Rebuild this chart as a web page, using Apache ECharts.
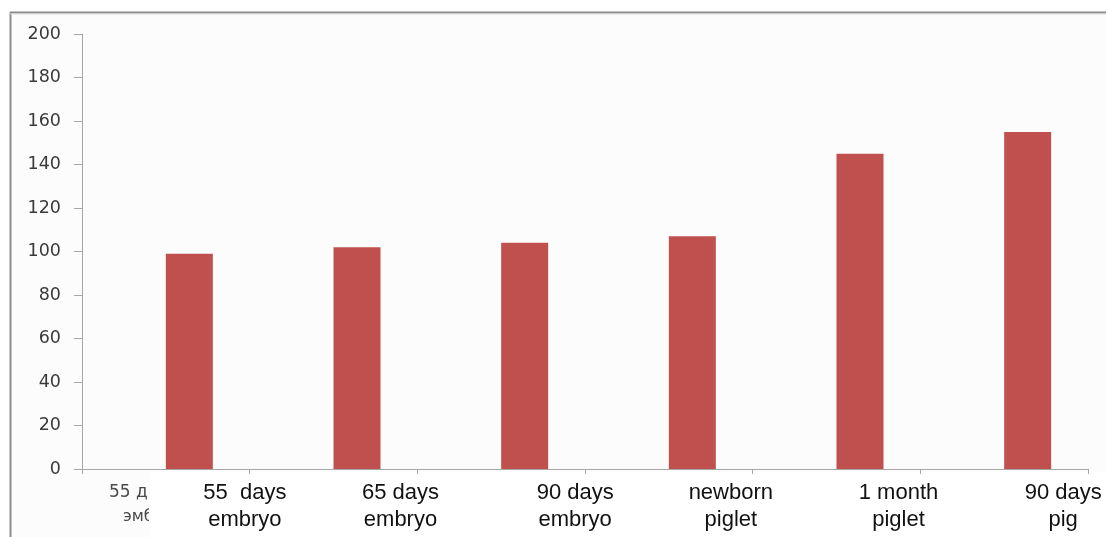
<!DOCTYPE html>
<html>
<head>
<meta charset="utf-8">
<script src="https://cdn.jsdelivr.net/npm/echarts@6/dist/echarts.min.js"></script>
<style>
  html, body { margin: 0; padding: 0; background: #ffffff; }
  #chart { width: 1106px; height: 537px; }
</style>
</head>
<body>
<div id="chart"></div>
<script>
// Stage of development for each bar
const categories = ['55  days\nembryo', '65 days\nembryo', '90 days\nembryo', 'newborn\npiglet', '1 month\npiglet', '90 days\npig'];
// Measured values
const values = [99, 102, 104, 107, 145, 155];
// Empty companion series (keeps the bars in the right half of each slot)
const blank = [null, null, null, null, null, null];
// Y axis range
const yMin = 0, yMax = 200, yStep = 20;

// horizontal shift of each category caption (px)
const captionShift = [79, 67, 74, 62, 62, 59];

const rich = {};
captionShift.forEach((s, i) => {
  rich['c' + i] = {
    fontFamily: 'Liberation Sans', fontSize: 22, color: '#111111',
    lineHeight: 27, padding: [0, 0, 0, 2 * s], align: 'center'
  };
});

const chart = echarts.init(document.getElementById('chart'), null, { renderer: 'canvas' });
chart.setOption({
  animation: false,
  backgroundColor: '#ffffff',
  graphic: [
    { type: 'rect', z: -20, shape: { x: 11, y: 13, width: 1095, height: 524 }, style: { fill: '#fcfcfc' } },
    { type: 'rect', z: -19, shape: { x: 150, y: 472, width: 956, height: 65 }, style: { fill: '#ffffff' } },
    { type: 'line', shape: { x1: 10.5, y1: 12, x2: 10.5, y2: 537 }, style: { stroke: '#8c8c8c', lineWidth: 2 } },
    { type: 'line', shape: { x1: 10, y1: 12.5, x2: 1106, y2: 12.5 }, style: { stroke: '#8c8c8c', lineWidth: 2 } },
    { type: 'line', shape: { x1: 10, y1: 14, x2: 1106, y2: 14 }, style: { stroke: '#dcdcdc', lineWidth: 1 } },
    {
      type: 'text', left: 109, top: 484, z: 5,
      style: { text: '55 д', fontFamily: 'DejaVu Sans', fontSize: 17, fill: '#4a4a4a' }
    },
    {
      type: 'text', left: 123, top: 509, z: 5,
      style: { text: 'эмб', fontFamily: 'DejaVu Sans', fontSize: 16, fill: '#4a4a4a' }
    },
    { type: 'rect', left: 149, top: 480, z: 6, shape: { width: 12, height: 50 }, style: { fill: '#ffffff' } }
  ],
  grid: { left: 82, right: 18, top: 34, bottom: 68, containLabel: false },
  xAxis: {
    type: 'category',
    data: categories,
    boundaryGap: true,
    axisLine: { lineStyle: { color: '#a6a6a6', width: 1 } },
    axisTick: { show: true, length: 5, lineStyle: { color: '#a6a6a6' } },
    axisLabel: {
      interval: 0, margin: 10,
      formatter: (v, i) => v.split('\n').map(l => '{c' + i + '|' + l + '}').join('\n'),
      rich: rich
    },
    splitLine: { show: false }
  },
  yAxis: {
    type: 'value',
    min: yMin, max: yMax, interval: yStep,
    axisLine: { show: true, lineStyle: { color: '#a6a6a6', width: 1 } },
    axisTick: { show: true, length: 8, lineStyle: { color: '#a6a6a6' } },
    axisLabel: { margin: 21, fontFamily: 'DejaVu Sans', fontSize: 17.5, color: '#3a3a3a' },
    splitLine: { show: false }
  },
  series: [
    { type: 'bar', data: blank, barWidth: 47, barGap: '0%', itemStyle: { color: '#4f81bd' } },
    { type: 'bar', data: values, barWidth: 47, barGap: '0%', itemStyle: { color: '#c0504d' } }
  ]
});
</script>
</body>
</html>
